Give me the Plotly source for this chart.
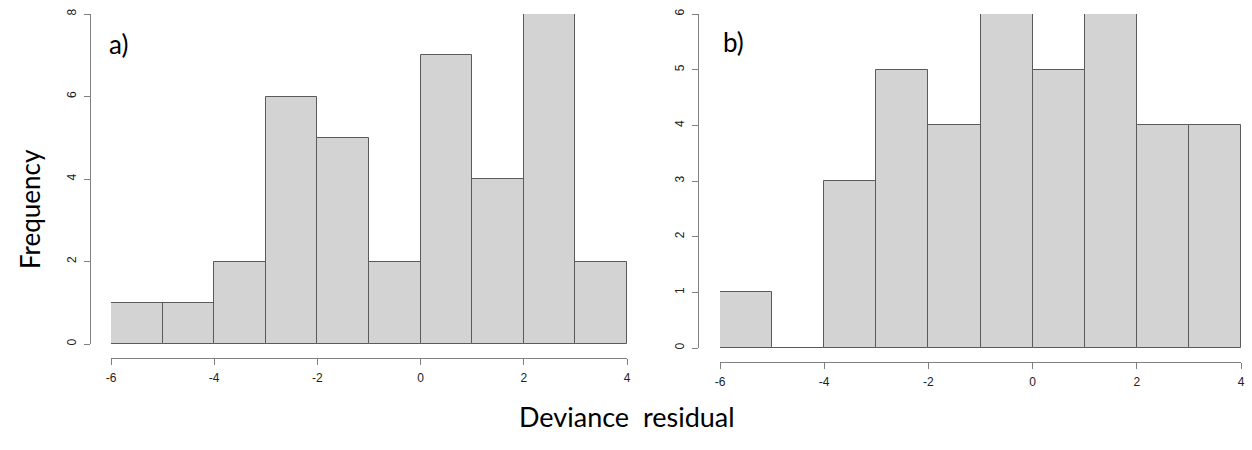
import plotly.graph_objects as go

# Bin edges shared by both histograms
bin_edges = [-6, -5, -4, -3, -2, -1, 0, 1, 2, 3, 4]
# Frequencies
counts_a = [1, 1, 2, 6, 5, 2, 7, 4, 8, 2]
counts_b = [1, 0, 3, 5, 4, 6, 5, 6, 4, 4]
x_ticks = [-6, -4, -2, 0, 2, 4]
y_ticks_a = [0, 2, 4, 6, 8]
y_ticks_b = [0, 1, 2, 3, 4, 5, 6]

centers = [(bin_edges[i] + bin_edges[i + 1]) / 2 for i in range(len(bin_edges) - 1)]
widths = [bin_edges[i + 1] - bin_edges[i] for i in range(len(bin_edges) - 1)]

W, H = 1252, 450
FILL = "#D3D3D3"
EDGE = "#5a5a5a"
AXC = "#808080"
TICKFONT = dict(family="Liberation Sans, Arial", size=12, color="#222222")
LABFONT = "Lato, Calibri, sans-serif"

fig = go.Figure()
fig.add_trace(go.Bar(x=centers, y=counts_a, width=widths, marker=dict(color=FILL, line=dict(color=EDGE, width=1)),
                     xaxis="x", yaxis="y", showlegend=False, hoverinfo="skip"))
fig.add_trace(go.Bar(x=centers, y=counts_b, width=widths, marker=dict(color=FILL, line=dict(color=EDGE, width=1)),
                     xaxis="x2", yaxis="y2", showlegend=False, hoverinfo="skip"))

def xax(domain, pos):
    return dict(domain=domain, range=[bin_edges[0], bin_edges[-1]], anchor="free", position=pos,
                showline=True, linecolor=AXC, linewidth=1, ticks="outside", ticklen=6, tickcolor=AXC,
                tickvals=x_ticks, ticktext=[str(v) for v in x_ticks], tickfont=TICKFONT,
                ticklabelstandoff=3,
                showgrid=False, zeroline=False, automargin=False, fixedrange=True)

def yax(domain, pos, top, tv):
    return dict(domain=domain, range=[0, top], anchor="free", position=pos,
                showline=True, linecolor=AXC, linewidth=1, ticks="outside", ticklen=6, tickcolor=AXC,
                tickvals=tv, ticktext=[str(v) for v in tv], tickangle=-90, tickfont=TICKFONT,
                ticklabelstandoff=3,
                showgrid=False, zeroline=False, automargin=False, fixedrange=True)

fig.update_layout(
    width=W, height=H, autosize=False, margin=dict(l=0, r=0, t=0, b=0, pad=0, autoexpand=False),
    paper_bgcolor="white", plot_bgcolor="white", bargap=0,
    xaxis=xax([111 / W, 627 / W], (H - 358) / H),
    yaxis=yax([(H - 344) / H, (H - 14) / H], 90 / W, max(y_ticks_a), y_ticks_a),
    xaxis2=xax([720 / W, 1241 / W], (H - 362) / H),
    yaxis2=yax([(H - 348) / H, (H - 14) / H], 698 / W, max(y_ticks_b), y_ticks_b),
    annotations=[
        dict(text="a)", x=107 / W, y=(H - 44) / H, xref="paper", yref="paper", xanchor="left", yanchor="middle",
             showarrow=False, font=dict(family=LABFONT, size=26, color="black")),
        dict(text="b)", x=721 / W, y=(H - 42) / H, xref="paper", yref="paper", xanchor="left", yanchor="middle",
             showarrow=False, font=dict(family=LABFONT, size=26, color="black")),
        dict(text="Frequency", x=30 / W, y=(H - 209) / H, xref="paper", yref="paper", xanchor="center", yanchor="middle",
             textangle=-90, showarrow=False, font=dict(family=LABFONT, size=26, color="black")),
        dict(text="Deviance  residual", x=627 / W, y=(H - 416) / H, xref="paper", yref="paper", xanchor="center", yanchor="middle",
             showarrow=False, font=dict(family=LABFONT, size=27, color="black")),
    ],
)

fig.write_html("out.html", config={"displayModeBar": False})
